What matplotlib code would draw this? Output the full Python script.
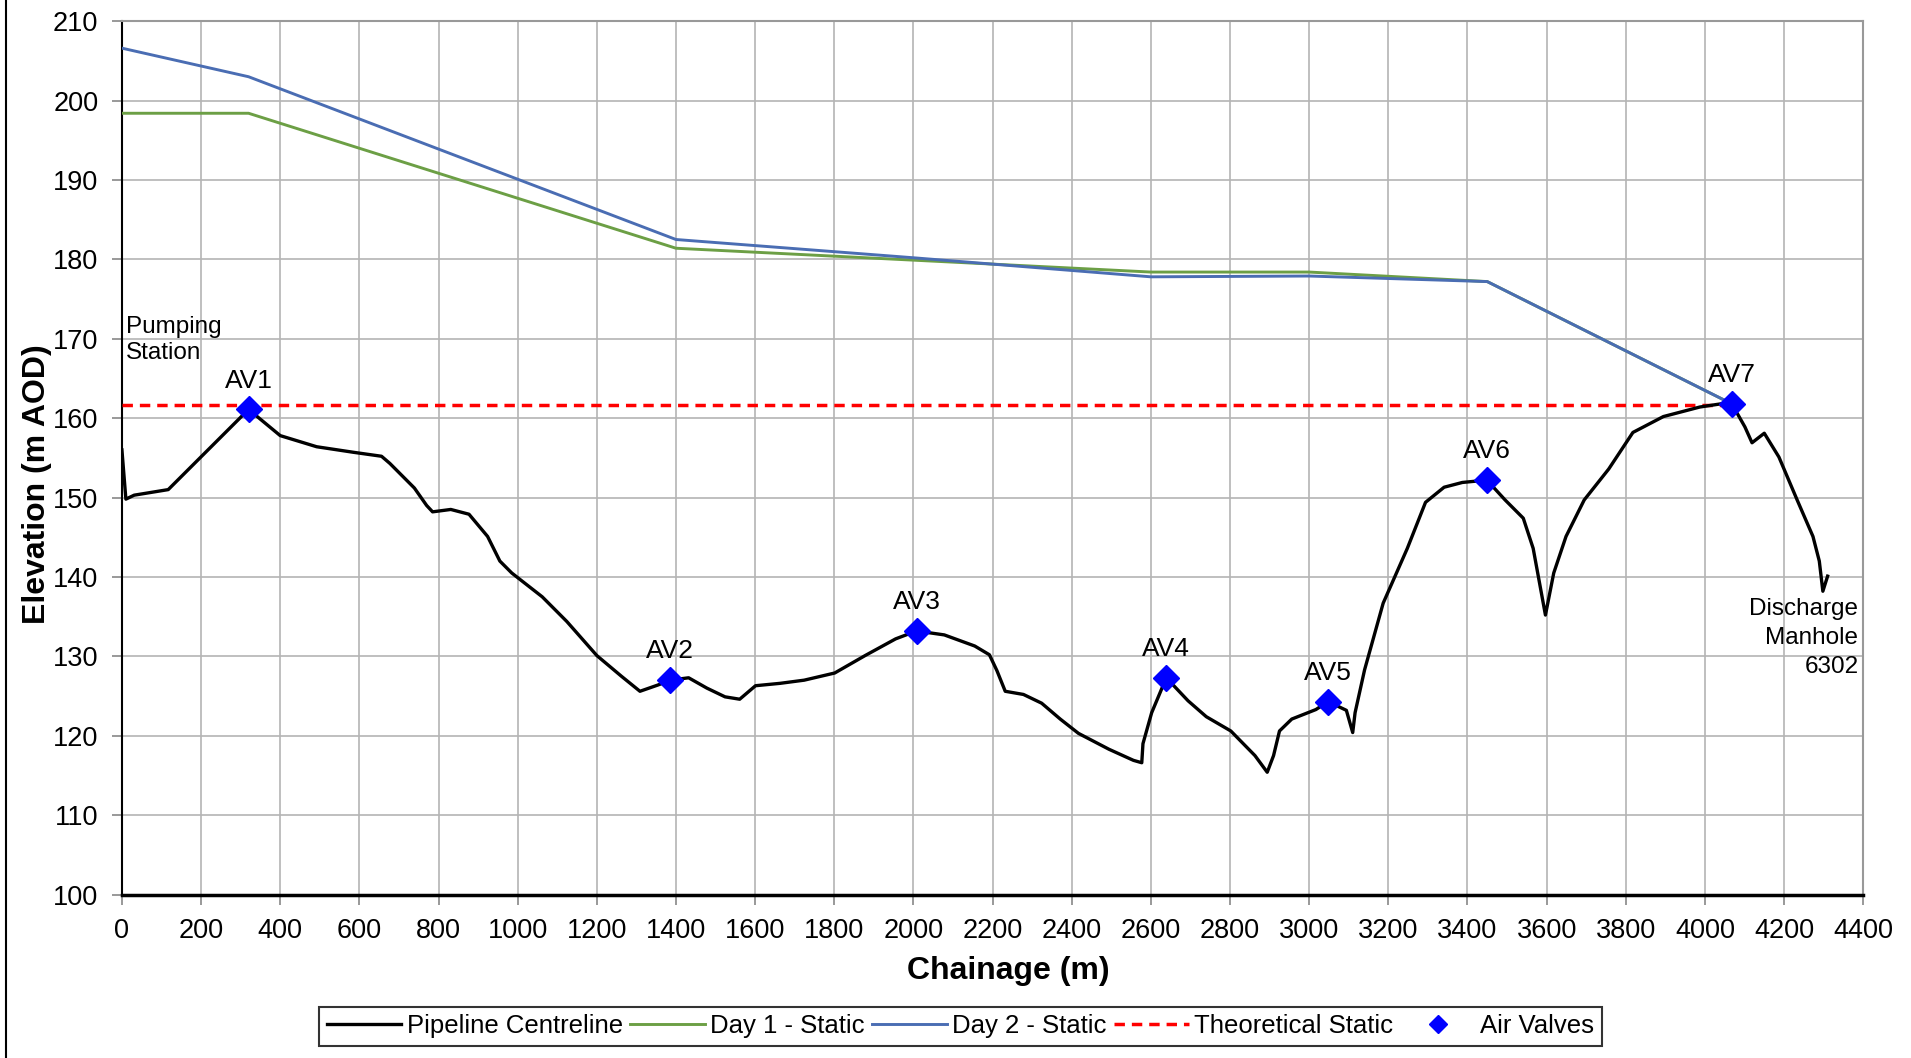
import matplotlib.pyplot as plt
from matplotlib.lines import Line2D

plt.rcParams["font.family"] = ["Liberation Sans", "DejaVu Sans"]

# Pipeline long section (chainage m, elevation m AOD)
pipe_x = [0, 10, 31, 117, 320, 400, 492, 585, 656, 677, 739, 770, 785, 831, 877,
          924, 955, 985, 1062, 1124, 1200, 1262, 1309, 1355, 1386, 1432, 1478,
          1524, 1561, 1601, 1663, 1724, 1801, 1878, 1955, 2008, 2078, 2155, 2192,
          2211, 2232, 2278, 2324, 2371, 2417, 2494, 2556, 2577, 2580, 2602, 2639,
          2694, 2740, 2802, 2863, 2894, 2910, 2925, 2956, 3017, 3048, 3094, 3110,
          3116, 3140, 3187, 3248, 3294, 3341, 3387, 3449, 3495, 3541, 3566, 3597,
          3618, 3649, 3695, 3757, 3818, 3895, 3987, 4040, 4068, 4101, 4119, 4150,
          4187, 4233, 4273, 4289, 4298, 4310]
pipe_y = [156.0, 149.8, 150.3, 151.0, 161.1, 157.8, 156.4, 155.7, 155.2, 154.3,
          151.2, 149.0, 148.2, 148.5, 147.9, 145.1, 142.0, 140.5, 137.5, 134.4,
          130.1, 127.5, 125.6, 126.4, 127.0, 127.3, 126.0, 124.9, 124.6, 126.3,
          126.6, 127.0, 127.9, 130.1, 132.2, 133.2, 132.7, 131.3, 130.2, 128.2,
          125.6, 125.2, 124.1, 122.1, 120.3, 118.3, 116.9, 116.6, 119.0, 122.9,
          127.3, 124.4, 122.4, 120.6, 117.5, 115.4, 117.5, 120.6, 122.1, 123.3,
          124.3, 123.2, 120.4, 122.9, 128.3, 136.7, 143.6, 149.4, 151.3, 151.9,
          152.2, 149.7, 147.4, 143.6, 135.2, 140.5, 145.1, 149.7, 153.6, 158.2,
          160.2, 161.4, 161.8, 161.8, 158.9, 156.9, 158.1, 155.1, 149.7, 145.1,
          142.0, 138.2, 140.1]

day1_x = [0, 320, 1400, 2600, 3000, 3450, 4068]
day1_y = [198.4, 198.4, 181.4, 178.4, 178.4, 177.2, 161.8]

day2_x = [0, 320, 1400, 2000, 2600, 3000, 3450, 4068]
day2_y = [206.6, 203.0, 182.5, 180.2, 177.8, 177.9, 177.2, 161.8]

theo_x = [0, 4068]
theo_y = [161.7, 161.7]

av_names = ["AV1", "AV2", "AV3", "AV4", "AV5", "AV6", "AV7"]
av_x = [320, 1386, 2008, 2639, 3048, 3449, 4068]
av_y = [161.1, 127.0, 133.2, 127.3, 124.3, 152.2, 161.8]

tick_fs = 19.5
fig = plt.figure(figsize=(19.11, 10.58), dpi=100)
ax = fig.add_axes([0.0638, 0.1545, 0.9112, 0.8255])

ax.plot(pipe_x, pipe_y, color="black", lw=2.4, label="Pipeline Centreline", zorder=4)
ax.plot(day1_x, day1_y, color="#6c9f45", lw=2.1, label="Day 1 - Static", zorder=3)
ax.plot(day2_x, day2_y, color="#4a6db3", lw=2.1, label="Day 2 - Static", zorder=3)
ax.plot(theo_x, theo_y, color="#ff0000", lw=2.5, ls=(0, (3, 2)),
        label="Theoretical Static", zorder=3)
ax.plot(av_x, av_y, ls="none", marker="D", ms=13, color="#0000ff",
        label="Air Valves", zorder=5)

for name, x, y in zip(av_names, av_x, av_y):
    ax.text(x, y + 2.1, name, ha="center", va="bottom", fontsize=19)

ax.text(10, 172.9, "Pumping\nStation", ha="left", va="top", fontsize=17.5,
        linespacing=1.25)
ax.text(4388, 137.3, "Discharge\nManhole\n6302", ha="right", va="top",
        fontsize=17.5, linespacing=1.4)

ax.set_xlim(0, 4400)
ax.set_ylim(100, 210)
ax.set_xticks(range(0, 4401, 200))
ax.set_yticks(range(100, 211, 10))
ax.grid(True, color="#b4b4b4", lw=1.2)
ax.set_axisbelow(True)
ax.tick_params(axis="x", labelsize=tick_fs, length=7, width=1.2, color="#888888", pad=10)
ax.tick_params(axis="y", labelsize=tick_fs, length=7, width=1.2, color="#888888", pad=10)

for side in ["top", "right"]:
    ax.spines[side].set_color("#999999")
    ax.spines[side].set_linewidth(1.5)
ax.spines["left"].set_linewidth(1.5)
ax.spines["bottom"].set_linewidth(2.5)

ax.set_xlabel("Chainage (m)", fontsize=23, fontweight="bold")
ax.xaxis.set_label_coords(0.509, -0.088, transform=ax.transAxes)
ax.xaxis.label.set_va("center")
ax.set_ylabel("Elevation (m AOD)", fontsize=23, fontweight="bold")
ax.yaxis.set_label_coords(-0.04, 0.47)

leg = fig.legend(*ax.get_legend_handles_labels(), loc="center",
                 bbox_to_anchor=(0.5026, 0.030), ncol=5, fontsize=18.5,
                 frameon=True, fancybox=False, edgecolor="black",
                 handlelength=2.9, handletextpad=0.2, columnspacing=0.3,
                 borderpad=0.3, markerscale=0.7)
leg.get_frame().set_linewidth(1.5)

fig.add_artist(Line2D([0.003, 0.003], [0, 1], color="black", lw=1.5,
                      transform=fig.transFigure))

fig.savefig("out.png", dpi=100)
